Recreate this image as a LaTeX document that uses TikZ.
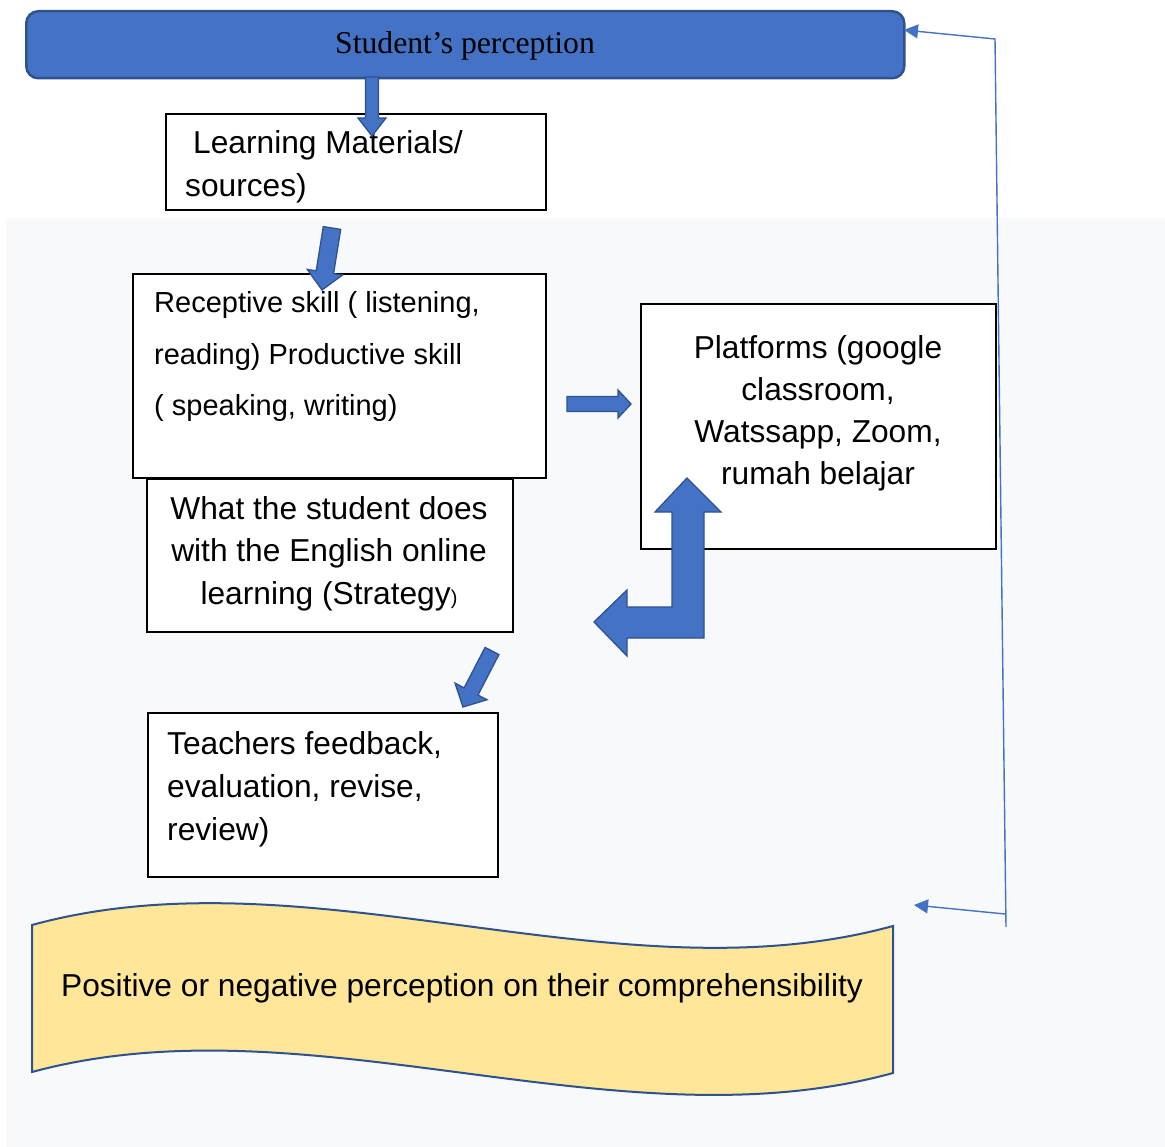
\documentclass[tikz,border=0pt]{standalone}
\usepackage{fontspec}
\setmainfont{Liberation Sans}
\newfontfamily\serifrm{Liberation Serif}
\usetikzlibrary{calc,arrows.meta,positioning}
\definecolor{wordBlue}{HTML}{4472C4}
\definecolor{wordEdge}{HTML}{2F528F}
\definecolor{bannerYellow}{HTML}{FFE699}
\definecolor{pageGrey}{HTML}{F7F9FB}

\tikzset{
  plainbox/.style={draw=black, line width=2pt, fill=white, inner sep=0pt, anchor=north west},
  topbar/.style={draw=wordEdge, line width=2.5pt, fill=wordBlue, rounded corners=12pt, inner sep=0pt, anchor=north west},
  txt/.style={inner sep=0pt, font=\fontsize{31.7}{43}\selectfont, align=left, anchor=base west},
  blockarr/.style={draw=wordEdge, line width=1.3pt, fill=wordBlue, line join=miter},
  fbline/.style={draw=wordBlue, line width=1.4pt},
  banner/.style={draw=wordEdge, line width=2pt, fill=bannerYellow}
}

% block arrow: from, to, shaft half width, head half width, head length
\newcommand{\blockarrow}[5]{%
  \coordinate (ba-h) at ($(#2)!#5!(#1)$);
  \draw[blockarr] ($(#1)!#3!90:(#2)$) -- ($(ba-h)!#3!90:(#2)$)
    -- ($(ba-h)!#4!90:(#2)$) -- (#2) -- ($(ba-h)!#4!-90:(#2)$)
    -- ($(ba-h)!#3!-90:(#2)$) -- ($(#1)!#3!-90:(#2)$) -- cycle;}

\begin{document}
\begin{tikzpicture}[x=1pt,y=-1pt]
  \useasboundingbox (0,0) rectangle (1165,1147);
  % grey page band
  \fill[pageGrey] (6,218) rectangle (1165,1147);

  % top bar
  \node[topbar, minimum width=878, minimum height=67] (bar) at (25,10) {};
  \node[inner sep=0pt, anchor=base, font=\serifrm\fontsize{31.7}{38}\selectfont] (bar-t) at (465,53.5) {Student’s perception};

  % boxes (text anchored on the baseline of its last line)
  \node[plainbox, minimum width=380, minimum height=96] (lm) at (165,113) {};
  \node[txt] (lm-t) at (185,197) {\hspace*{8pt}Learning Materials/\\sources)};

  \node[plainbox, minimum width=413, minimum height=204] (rs) at (132,273) {};
  \node[txt, font=\fontsize{29}{51.5}\selectfont] (rs-t) at (154,416)
    {Receptive skill ( listening,\\reading) Productive skill\\( speaking, writing)};

  \node[plainbox, minimum width=366, minimum height=153] (ws) at (146,478) {};
  \node[txt, align=center, anchor=base, font=\fontsize{31.7}{42.5}\selectfont] (ws-t) at (329,604)
    {What the student does\\with the English online\\learning (Strategy{\fontsize{20}{20}\selectfont)}};

  \node[plainbox, minimum width=355, minimum height=245] (pf) at (640,303) {};
  \node[txt, align=center, anchor=base, font=\fontsize{31.7}{42}\selectfont] (pf-t) at (818,484)
    {Platforms (google\\classroom,\\Watssapp, Zoom,\\rumah belajar};

  \node[plainbox, minimum width=350, minimum height=164] (tf) at (147,712) {};
  \node[txt] (tf-t) at (167,840) {Teachers feedback,\\evaluation, revise,\\review)};

  % wavy banner
  \draw[banner] (32,925) .. controls (309,849) and (616,1002) .. (893,926)
    -- (893,1073) .. controls (616,1149) and (309,997) .. (32,1072) -- cycle;
  \node[txt, anchor=base] (banner-t) at (462,996) {Positive or negative perception on their comprehensibility};

  % block arrows
  \coordinate (a1-s) at (372,77);  \coordinate (a1-e) at (372,136);
  \coordinate (a2-s) at (332,228); \coordinate (a2-e) at (322,290);
  \coordinate (a3-s) at (492,651); \coordinate (a3-e) at (463,707);
  \coordinate (a4-s) at (567,404); \coordinate (a4-e) at (631,404);
  \blockarrow{a1-s}{a1-e}{6.5pt}{14pt}{18pt}
  \blockarrow{a2-s}{a2-e}{8.8pt}{17.8pt}{18pt}
  \blockarrow{a3-s}{a3-e}{7.8pt}{18pt}{17.5pt}
  \blockarrow{a4-s}{a4-e}{7.5pt}{14pt}{13pt}

  % bent two-way arrow
  \draw[blockarr] (687,478) -- (721,512) -- (704,512) -- (704,638) -- (627,638)
    -- (627,656) -- (594,622) -- (627,590) -- (627,607) -- (672,607)
    -- (672,512) -- (655,512) -- cycle;

  % feedback line on the right
  \coordinate (fb-bot) at (1006,927);
  \coordinate (fb-top) at (995,39);
  \coordinate (fb-tip) at (904,30);
  \coordinate (fb-mid) at (1005,914);
  \coordinate (fb-end) at (914,905);
  \draw[fbline, -{Triangle[length=14pt,width=14pt]}] (fb-bot) -- (fb-top) -- (fb-tip);
  \draw[fbline, -{Triangle[length=14pt,width=14pt]}] (fb-mid) -- (fb-end);
\end{tikzpicture}
\end{document}
